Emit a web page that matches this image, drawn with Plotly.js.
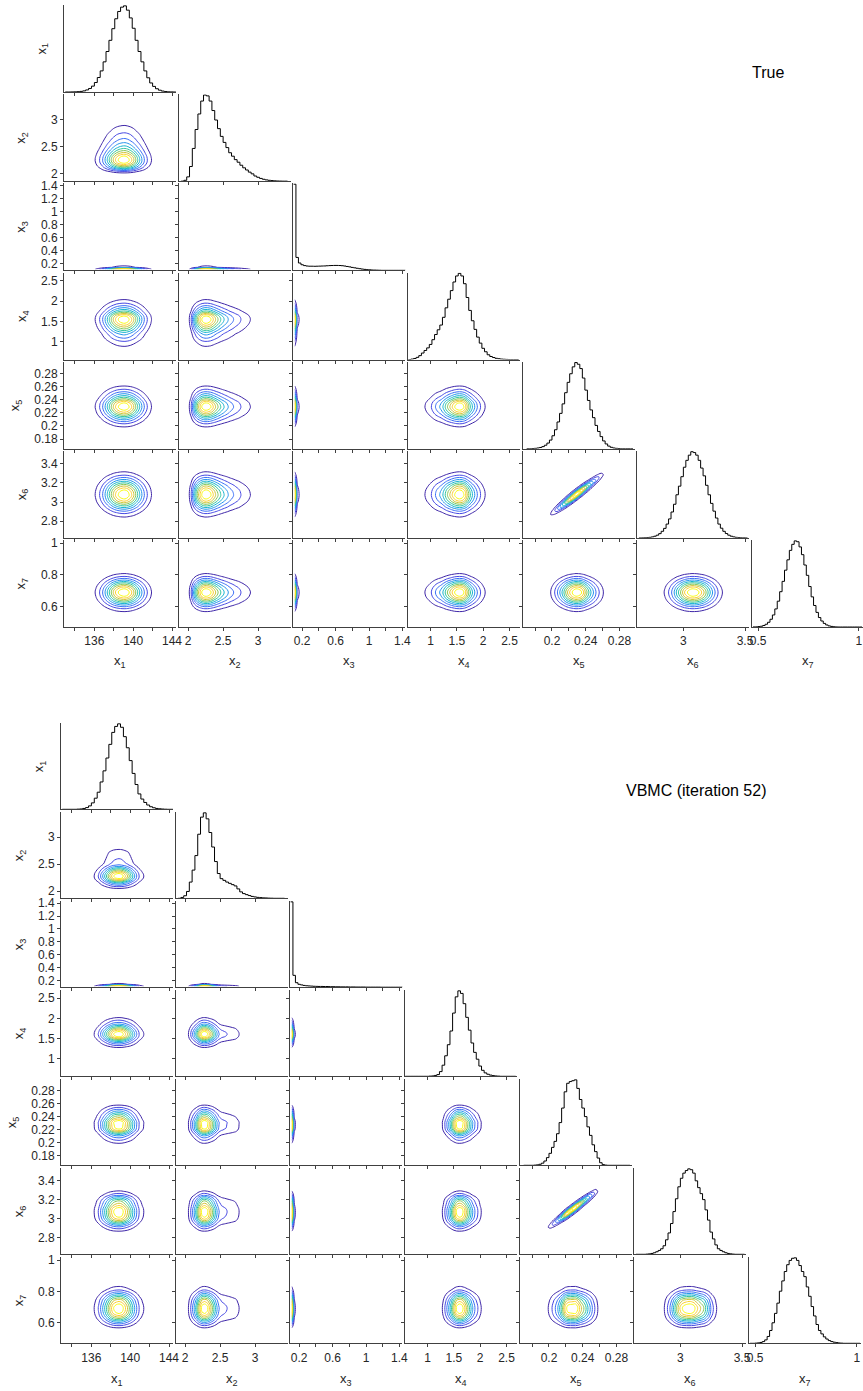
<!DOCTYPE html>
<html>
<head>
<meta charset="utf-8">
<script src="https://cdn.plot.ly/plotly-3.0.1.min.js"></script>
<style>
  html, body { margin: 0; padding: 0; background: #ffffff; }
  #chart { width: 863px; height: 1391px; }
</style>
</head>
<body>
<div id="chart"></div>
<script>
// ---------------- data ----------------
const varIndex = ['1', '2', '3', '4', '5', '6', '7'];

// histogram bins: first bin left edge and bin width for each variable
const binStart = [133.0, 1.90, 0.095, 0.575, 0.170, 2.64, 0.475];
const binWidth = [0.3, 0.04, 0.03, 0.05, 0.003, 0.02, 0.012];

// axis limits for each variable
const axisRanges = [[132.87, 144.41], [1.865, 3.465], [0.094, 1.435], [0.57, 2.70], [0.1653, 0.298], [2.627, 3.535], [0.47, 1.02]];

// labelled ticks and unlabelled (minor) ticks for each variable
const xTickVals = [[136, 140, 144], [2, 2.5, 3], [0.2, 0.6, 1, 1.4], [1, 1.5, 2, 2.5], [0.2, 0.24, 0.28], [3, 3.5], [0.5, 1]];
const xTickText = [['136', '140', '144'], ['2', '2.5', '3'], ['0.2', '0.6', '1', '1.4'], ['1', '1.5', '2', '2.5'], ['0.2', '0.24', '0.28'], ['3', '3.5'], ['0.5', '1']];
const xMinorVals = [[134, 138, 142], [], [0.4, 0.8, 1.2], [], [0.18, 0.22, 0.26], [], []];
const yTickVals = [[], [2, 2.5, 3], [0.2, 0.4, 0.6, 0.8, 1, 1.2, 1.4], [1, 1.5, 2, 2.5], [0.18, 0.2, 0.22, 0.24, 0.26, 0.28], [2.8, 3, 3.2, 3.4], [0.6, 0.8, 1]];
const yTickText = [[], ['2', '2.5', '3'], ['0.2', '0.4', '0.6', '0.8', '1', '1.2', '1.4'], ['1', '1.5', '2', '2.5'], ['0.18', '0.2', '0.22', '0.24', '0.26', '0.28'], ['2.8', '3', '3.2', '3.4'], ['0.6', '0.8', '1']];

// ---- "True" marginal histograms (relative heights) ----
const trueX1 = [0,0,0.001,0.002,0.004,0.007,0.013,0.024,0.041,0.068,0.11,0.168,0.245,0.35,0.47,0.6,0.735,0.85,0.935,0.985,1.0,0.95,0.86,0.74,0.6,0.47,0.35,0.245,0.165,0.105,0.065,0.038,0.021,0.011,0.005,0.002,0.001,0];
const trueX2 = [0,0.01,0.05,0.17,0.38,0.6,0.78,0.93,1.0,0.99,0.93,0.82,0.71,0.61,0.52,0.45,0.39,0.33,0.29,0.25,0.22,0.185,0.155,0.13,0.105,0.085,0.06,0.045,0.032,0.022,0.015,0.01,0.007,0.004,0.002,0.001,0,0];
const trueX3 = [1.0,0.15,0.085,0.065,0.055,0.05,0.048,0.048,0.047,0.048,0.049,0.05,0.051,0.053,0.055,0.056,0.057,0.057,0.056,0.054,0.05,0.045,0.04,0.034,0.029,0.024,0.019,0.015,0.011,0.008,0.006,0.004,0.003,0.002,0.001,0,0,0,0,0,0,0,0,0,0];
const trueX4 = [0,0.005,0.012,0.025,0.045,0.075,0.105,0.135,0.175,0.23,0.29,0.345,0.4,0.49,0.6,0.7,0.8,0.9,0.97,1.0,0.97,0.88,0.72,0.57,0.45,0.35,0.26,0.19,0.13,0.09,0.055,0.035,0.023,0.014,0.009,0.005,0.003,0.001,0,0,0,0];
const trueX5 = [0,0,0.002,0.004,0.008,0.014,0.024,0.04,0.065,0.1,0.15,0.22,0.31,0.41,0.52,0.65,0.77,0.87,0.95,1.0,0.98,0.93,0.82,0.68,0.56,0.45,0.36,0.27,0.2,0.14,0.09,0.055,0.03,0.016,0.008,0.004,0.002,0,0,0,0,0];
const trueX6 = [0,0.001,0.002,0.004,0.006,0.011,0.019,0.031,0.049,0.076,0.11,0.16,0.22,0.3,0.39,0.5,0.6,0.71,0.82,0.9,0.96,1.0,0.99,0.96,0.9,0.81,0.72,0.61,0.5,0.4,0.31,0.23,0.16,0.112,0.076,0.05,0.031,0.019,0.011,0.006,0.004,0.002,0.001,0];
const trueX7 = [0.001,0.002,0.005,0.009,0.018,0.032,0.055,0.09,0.14,0.21,0.3,0.41,0.53,0.66,0.78,0.89,0.96,1.0,0.99,0.93,0.84,0.72,0.6,0.47,0.35,0.25,0.17,0.11,0.07,0.042,0.024,0.013,0.007,0.003,0.001,0,0,0,0,0,0,0,0,0,0];

// ---- "VBMC (iteration 52)" marginal histograms ----
const vbmcX1 = [0,0,0,0,0,0.002,0.004,0.01,0.02,0.04,0.075,0.13,0.2,0.32,0.45,0.6,0.76,0.9,0.97,1.0,0.96,0.85,0.72,0.57,0.42,0.29,0.18,0.12,0.08,0.05,0.03,0.018,0.01,0.006,0.003,0.001,0,0];
const vbmcX2 = [0,0.01,0.03,0.08,0.19,0.33,0.5,0.75,0.95,1.0,0.93,0.77,0.6,0.43,0.29,0.23,0.21,0.19,0.175,0.16,0.145,0.11,0.075,0.055,0.043,0.032,0.022,0.016,0.011,0.008,0.005,0.004,0.002,0.001,0,0,0,0];
const vbmcX3 = [1.0,0.14,0.054,0.035,0.028,0.022,0.018,0.016,0.014,0.012,0.011,0.01,0.01,0.009,0.009,0.008,0.007,0.007,0.006,0.006,0.005,0.005,0.005,0.004,0.004,0.004,0.003,0.003,0.003,0.003,0.002,0.002,0.002,0.002,0.002,0.002,0.001,0.001,0.001,0.001,0.001,0.001,0.001,0.001,0.001];
const vbmcX4 = [0,0,0,0,0,0,0,0,0,0.002,0.004,0.01,0.02,0.055,0.13,0.24,0.37,0.53,0.74,0.93,1.0,0.97,0.85,0.69,0.54,0.39,0.28,0.2,0.12,0.07,0.04,0.024,0.014,0.008,0.004,0.002,0,0,0,0,0,0];
const vbmcX5 = [0,0,0,0,0.002,0.005,0.012,0.025,0.05,0.09,0.14,0.21,0.28,0.37,0.5,0.67,0.86,0.96,0.98,0.99,1.0,0.9,0.77,0.67,0.57,0.45,0.35,0.24,0.16,0.085,0.03,0.008,0.002,0,0,0,0,0,0,0,0,0];
const vbmcX6 = [0,0,0,0,0.002,0.005,0.01,0.018,0.03,0.045,0.065,0.1,0.17,0.25,0.36,0.5,0.65,0.79,0.89,0.95,0.98,1.0,0.99,0.95,0.86,0.78,0.71,0.64,0.52,0.4,0.26,0.18,0.11,0.065,0.045,0.03,0.018,0.01,0.005,0.002,0,0,0,0];
const vbmcX7 = [0,0,0.002,0.005,0.01,0.02,0.04,0.08,0.15,0.24,0.35,0.47,0.61,0.73,0.84,0.92,0.97,0.995,1.0,0.97,0.91,0.84,0.78,0.66,0.55,0.43,0.32,0.22,0.15,0.11,0.075,0.05,0.032,0.02,0.013,0.008,0.004,0.002,0,0,0,0,0,0,0];

// x5-x6 joint: ridge read from the tips of the outer contour, and cross-section profile of x6 about it
// (offsets from -0.10 to +0.10 in steps of 0.02)
const trueRidge56x5 = [0.1978, 0.2625];
const trueRidge56x6 = [2.872, 3.304];
const trueProfile56 = [0.002, 0.017, 0.1, 0.36, 0.78, 1, 0.78, 0.36, 0.1, 0.017, 0.002];
const vbmcRidge56x5 = [0.1993, 0.2593];
const vbmcRidge56x6 = [2.91, 3.307];
const vbmcProfile56 = [0.001, 0.01, 0.07, 0.3, 0.75, 1, 0.75, 0.3, 0.07, 0.01, 0.001];
const profileStep = 0.02;

// contour levels (fraction of the peak density)
const levelStart = 0.1, levelEnd = 0.92, levelStep = 0.09;

// ---------------- figure construction ----------------
const W = 863, H = 1391;
const parula = [[0, 'rgb(62,38,168)'], [0.1429, 'rgb(72,82,244)'], [0.2857, 'rgb(46,135,247)'],
  [0.4286, 'rgb(18,177,214)'], [0.5714, 'rgb(55,200,151)'], [0.7143, 'rgb(171,199,57)'],
  [0.8571, 'rgb(254,195,56)'], [1, 'rgb(249,251,21)']];

const grids = [
  { title: 'True', hists: [trueX1, trueX2, trueX3, trueX4, trueX5, trueX6, trueX7],
    ridgeX: trueRidge56x5, ridgeY: trueRidge56x6, profile: trueProfile56,
    x0: 64, y0: 5, dx: 114.67, dy: 89.17, w: 112, h: 87,
    titleX: 768, titleY: 72, xlabY: 661, ylabX: [42, 22, 22, 22, 15, 22, 22] },
  { title: 'VBMC (iteration 52)', hists: [vbmcX1, vbmcX2, vbmcX3, vbmcX4, vbmcX5, vbmcX6, vbmcX7],
    ridgeX: vbmcRidge56x5, ridgeY: vbmcRidge56x6, profile: vbmcProfile56,
    x0: 61, y0: 723, dx: 114.67, dy: 89, w: 112, h: 86.3,
    titleX: 696, titleY: 790, xlabY: 1379, ylabX: [39, 19, 19, 19, 12, 19, 19] }
];

const FONT = 'Liberation Sans, Arial, Helvetica, sans-serif';
const AXC = '#404040';
const axBase = {
  showline: true, linecolor: AXC, linewidth: 1, ticks: 'outside', ticklen: 3, tickwidth: 1,
  tickcolor: AXC, showgrid: false, zeroline: false, mirror: false, fixedrange: true,
  tickfont: { family: FONT, size: 12, color: '#262626' }, tickmode: 'array'
};

function normalize(a) { const m = Math.max(...a); return a.map(v => v / m); }

function ridgeGrid(hx, xc, yc, rx, ry, profile, step) {
  const slope = (ry[1] - ry[0]) / (rx[1] - rx[0]);
  const half = (profile.length - 1) / 2;
  return yc.map(y => xc.map((x, i) => {
    const off = (y - (ry[0] + slope * (x - rx[0]))) / step + half;
    if (off <= 0 || off >= profile.length - 1) return 0;
    const k = Math.floor(off), f = off - k;
    return hx[i] * (profile[k] * (1 - f) + profile[k + 1] * f);
  }));
}

const data = [];
const layout = {
  width: W, height: H, margin: { l: 0, r: 0, t: 0, b: 0 }, showlegend: false,
  paper_bgcolor: '#ffffff', plot_bgcolor: 'rgba(0,0,0,0)',
  font: { family: FONT, size: 12, color: '#262626' }, annotations: []
};

let id = 0;
grids.forEach(g => {
  const hist = g.hists.map(normalize);
  const centers = hist.map((v, k) => v.map((_, i) => binStart[k] + (i + 0.5) * binWidth[k]));
  for (let r = 0; r < 7; r++) {
    for (let c = 0; c <= r; c++) {
      id++;
      const sfx = id === 1 ? '' : String(id);
      const left = g.x0 + c * g.dx;
      const right = Math.min(left + g.w, W);
      const top = g.y0 + r * g.dy;
      const bottom = top + g.h;
      const xa = Object.assign({}, axBase, {
        domain: [left / W, right / W], anchor: 'y' + sfx, range: axisRanges[c],
        tickvals: xTickVals[c], ticktext: xTickText[c], showticklabels: r === 6
      });
      if (xMinorVals[c].length) {
        xa.minor = { tickmode: 'array', tickvals: xMinorVals[c], ticks: 'outside', ticklen: 3, tickwidth: 1, tickcolor: AXC, showgrid: false };
      }
      layout['xaxis' + sfx] = xa;
      if (r === c) {
        layout['yaxis' + sfx] = Object.assign({}, axBase, {
          domain: [1 - bottom / H, 1 - top / H], anchor: 'x' + sfx, range: [0, 1.01],
          ticks: '', showticklabels: false, tickvals: []
        });
        const xs = [], ys = [];
        hist[c].forEach((v, i) => { xs.push(binStart[c] + i * binWidth[c]); ys.push(v); });
        xs.push(binStart[c] + hist[c].length * binWidth[c]);
        ys.push(hist[c][hist[c].length - 1]);
        data.push({ type: 'scatter', mode: 'lines', x: xs, y: ys, line: { shape: 'hv', color: '#000000', width: 1 },
          xaxis: 'x' + sfx, yaxis: 'y' + sfx, hoverinfo: 'skip' });
      } else {
        layout['yaxis' + sfx] = Object.assign({}, axBase, {
          domain: [1 - bottom / H, 1 - top / H], anchor: 'x' + sfx, range: axisRanges[r],
          tickvals: yTickVals[r], ticktext: yTickText[r], showticklabels: c === 0
        });
        let z;
        if (c === 4 && r === 5) {
          z = ridgeGrid(hist[4], centers[4], centers[5], g.ridgeX, g.ridgeY, g.profile, profileStep);
        } else {
          z = centers[r].map((_, j) => centers[c].map((_, i) => hist[r][j] * hist[c][i]));
        }
        let zm = 0; z.forEach(row => row.forEach(v => { if (v > zm) zm = v; }));
        z = z.map(row => row.map(v => v / zm));
        data.push({ type: 'contour', x: centers[c], y: centers[r], z: z,
          xaxis: 'x' + sfx, yaxis: 'y' + sfx, autocontour: false,
          contours: { coloring: 'lines', start: levelStart, end: levelEnd, size: levelStep, showlabels: false },
          colorscale: parula, showscale: false, line: { width: 1, smoothing: 1 }, hoverinfo: 'skip' });
      }
    }
  }
  // axis name labels
  for (let c = 0; c < 7; c++) {
    const left = g.x0 + c * g.dx;
    const right = Math.min(left + g.w, W);
    layout.annotations.push({ xref: 'paper', yref: 'paper', x: ((left + right) / 2) / W, y: 1 - g.xlabY / H,
      xanchor: 'center', yanchor: 'middle', showarrow: false, text: 'x<sub>' + varIndex[c] + '</sub>',
      font: { family: FONT, size: 13, color: '#262626' } });
  }
  for (let r = 0; r < 7; r++) {
    const top = g.y0 + r * g.dy;
    layout.annotations.push({ xref: 'paper', yref: 'paper', x: g.ylabX[r] / W, y: 1 - (top + g.h / 2) / H,
      xanchor: 'center', yanchor: 'middle', showarrow: false, textangle: -90, text: 'x<sub>' + varIndex[r] + '</sub>',
      font: { family: FONT, size: 13, color: '#262626' } });
  }
  layout.annotations.push({ xref: 'paper', yref: 'paper', x: g.titleX / W, y: 1 - g.titleY / H,
    xanchor: 'center', yanchor: 'middle', showarrow: false, text: g.title,
    font: { family: FONT, size: 16, color: '#000000' } });
});

Plotly.newPlot('chart', data, layout, { displayModeBar: false, staticPlot: true });
</script>
</body>
</html>
